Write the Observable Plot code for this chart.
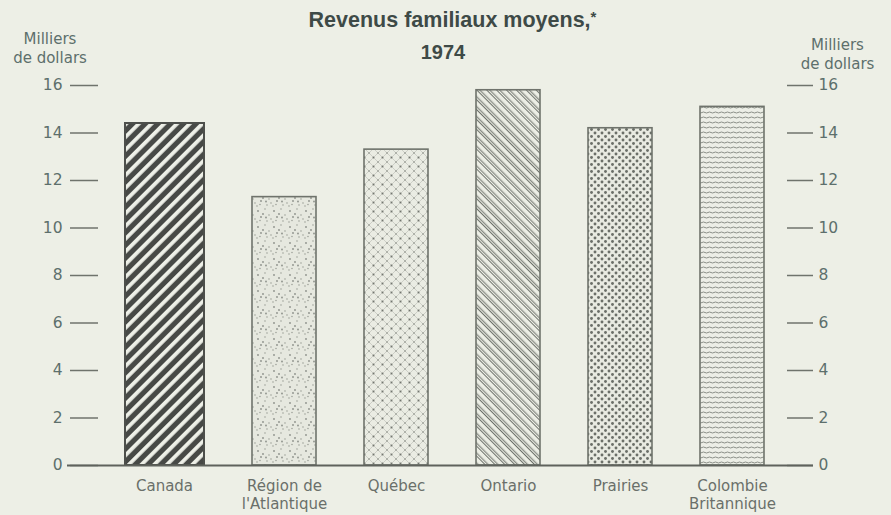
<!DOCTYPE html>
<html>
<head>
<meta charset="utf-8">
<script src="https://cdn.jsdelivr.net/npm/d3@7"></script>
<script src="https://cdn.jsdelivr.net/npm/@observablehq/plot@0.6"></script>
<style>
  html, body { margin: 0; padding: 0; background: #edefe6; }
  #chart svg { display: block; }
</style>
</head>
<body>
<div id="chart"></div>
<script>
const regions = ["Canada", "Région de l'Atlantique", "Québec", "Ontario", "Prairies", "Colombie Britannique"];
const regionLabels = ["Canada", "Région de\nl'Atlantique", "Québec", "Ontario", "Prairies", "Colombie\nBritannique"];
const revenus = [14.4, 11.3, 13.3, 15.8, 14.2, 15.1];
const patternIds = ["p-canada", "p-atl", "p-qc", "p-ont", "p-pr", "p-cb"];
const yTicks = [0, 2, 4, 6, 8, 10, 12, 14, 16];
const titleLine1 = "Revenus familiaux moyens,";
const titleMark = "*";
const titleLine2 = "1974";
const axisTitle = "Milliers\nde dollars";

const data = regions.map((r, i) => ({region: r, label: regionLabels[i], value: revenus[i], pat: patternIds[i]}));

const textColor = "#5d6f6c";
const lineColor = "#6f736c";
const font = "'DejaVu Sans', sans-serif";
const titleFont = "'Liberation Sans', Arial, sans-serif";

const barMarks = data.map((d, i) => Plot.barY([d], {
  x: "region", y: "value",
  fill: `url(#${d.pat})`,
  stroke: i === 0 ? "#4d4f4b" : lineColor,
  strokeWidth: i === 0 ? 2 : 1.6,
  insetLeft: i === 0 ? 16.5 : 24,
  insetRight: i === 0 ? 16.5 : 24,
  dx: i === 0 ? -7.5 : 0
}));

const chart = Plot.plot({
  width: 891,
  height: 515,
  marginLeft: 116,
  marginRight: 103,
  marginTop: 85,
  marginBottom: 50,
  style: {background: "#edefe6", fontFamily: font},
  x: {domain: regions, padding: 0, axis: null},
  y: {domain: [0, 16], axis: null},
  marks: [
    ...barMarks,
    Plot.axisY(yTicks, {anchor: "left", tickSize: 28, tickPadding: 8, dx: -18, stroke: lineColor, strokeWidth: 1.5, fill: textColor, fontSize: 15.5, label: null}),
    Plot.axisY(yTicks, {anchor: "right", tickSize: 26, tickPadding: 6, dx: -2, stroke: lineColor, strokeWidth: 1.5, fill: textColor, fontSize: 15.5, label: null}),
    Plot.ruleY([0], {stroke: "#5f625c", strokeWidth: 2.2, insetLeft: -49, insetRight: -25}),
    Plot.text(data.slice(1), {x: "region", y: () => 0, text: "label", lineAnchor: "top", dy: 13, fontSize: 15, lineHeight: 1.2, fill: "#6a6f6a"}),
    Plot.text(data.slice(0, 1), {x: "region", y: () => 0, text: "label", lineAnchor: "top", dy: 13, dx: -8, fontSize: 15, lineHeight: 1.2, fill: "#6a6f6a"}),
    Plot.text([axisTitle], {frameAnchor: "top-left", text: (d) => d, textAnchor: "middle", lineAnchor: "top", dx: -66.5, dy: -55, fontSize: 15, lineHeight: 1.27, fill: textColor}),
    Plot.text([axisTitle], {frameAnchor: "top-right", text: (d) => d, textAnchor: "middle", lineAnchor: "top", dx: 49, dy: -49, fontSize: 15, lineHeight: 1.27, fill: textColor}),
    Plot.text([titleLine1], {frameAnchor: "top", text: (d) => d, textAnchor: "middle", lineAnchor: "top", dx: 0, dy: -74, fontSize: 21.5, fontWeight: "bold", fill: "#3e4a47", fontFamily: titleFont}),
    Plot.text([titleLine2], {frameAnchor: "top", text: (d) => d, textAnchor: "middle", lineAnchor: "top", dx: -9.5, dy: -41, fontSize: 20, fontWeight: "bold", fill: "#3e4a47", fontFamily: titleFont})
  ]
});

const svg = d3.select(chart);

// superscript asterisk after the title
svg.selectAll("text").filter(function () { return this.textContent === titleLine1; })
  .append("tspan").attr("dy", "-0.35em").attr("font-size", 15).text(titleMark);

// Patterns (styles)
const defs = svg.insert("defs", ":first-child");

// Canada: dark with light "/" stripes
let p = defs.append("pattern").attr("id", "p-canada").attr("patternUnits", "userSpaceOnUse")
  .attr("width", 9).attr("height", 9).attr("patternTransform", "rotate(45)");
p.append("rect").attr("width", 9).attr("height", 9).attr("fill", "#474946");
p.append("rect").attr("x", 0).attr("width", 3.8).attr("height", 9).attr("fill", "#eef0e8");

// Atlantique: light with sparse scattered dots
p = defs.append("pattern").attr("id", "p-atl").attr("patternUnits", "userSpaceOnUse")
  .attr("width", 16).attr("height", 16);
p.append("rect").attr("width", 16).attr("height", 16).attr("fill", "#e6e8df");
[[2,3],[9,1],[13,7],[5,9],[11,13],[1,14],[7,6],[15,11],[4,12.5],[10,9.5]].forEach(([x, y], k) =>
  p.append("circle").attr("cx", x).attr("cy", y).attr("r", k % 3 === 0 ? 0.9 : 0.65).attr("fill", "#8d918a"));

// Québec: light crosshatch with dots
p = defs.append("pattern").attr("id", "p-qc").attr("patternUnits", "userSpaceOnUse")
  .attr("width", 9).attr("height", 9);
p.append("rect").attr("width", 9).attr("height", 9).attr("fill", "#eaece3");
p.append("path").attr("d", "M0 0L9 9M9 0L0 9").attr("stroke", "#b7bab2").attr("stroke-width", 0.6);
p.append("circle").attr("cx", 4.5).attr("cy", 4.5).attr("r", 1).attr("fill", "#71756e");
[[0,0],[9,0],[0,9],[9,9]].forEach(([x, y]) =>
  p.append("circle").attr("cx", x).attr("cy", y).attr("r", 0.8).attr("fill", "#8a8e87"));

// Ontario: thin double "\" lines
p = defs.append("pattern").attr("id", "p-ont").attr("patternUnits", "userSpaceOnUse")
  .attr("width", 7).attr("height", 7).attr("patternTransform", "rotate(-45)");
p.append("rect").attr("width", 7).attr("height", 7).attr("fill", "#eceee5");
p.append("rect").attr("x", 0).attr("width", 0.9).attr("height", 7).attr("fill", "#5f635c");
p.append("rect").attr("x", 2.3).attr("width", 0.9).attr("height", 7).attr("fill", "#5f635c");

// Prairies: dense offset dots
p = defs.append("pattern").attr("id", "p-pr").attr("patternUnits", "userSpaceOnUse")
  .attr("width", 7).attr("height", 7);
p.append("rect").attr("width", 7).attr("height", 7).attr("fill", "#e8eae1");
[[0,0],[7,0],[0,7],[7,7],[3.5,3.5]].forEach(([x, y]) =>
  p.append("circle").attr("cx", x).attr("cy", y).attr("r", 1.45).attr("fill", "#6b6f68"));

// Colombie Britannique: horizontal wavy lines
p = defs.append("pattern").attr("id", "p-cb").attr("patternUnits", "userSpaceOnUse")
  .attr("width", 6).attr("height", 5);
p.append("rect").attr("width", 6).attr("height", 5).attr("fill", "#eceee6");
p.append("path").attr("d", "M0 2.5 Q1.5 1.5 3 2.5 T6 2.5").attr("fill", "none").attr("stroke", "#7e827b").attr("stroke-width", 0.9);

document.getElementById("chart").appendChild(chart);
</script>
</body>
</html>
